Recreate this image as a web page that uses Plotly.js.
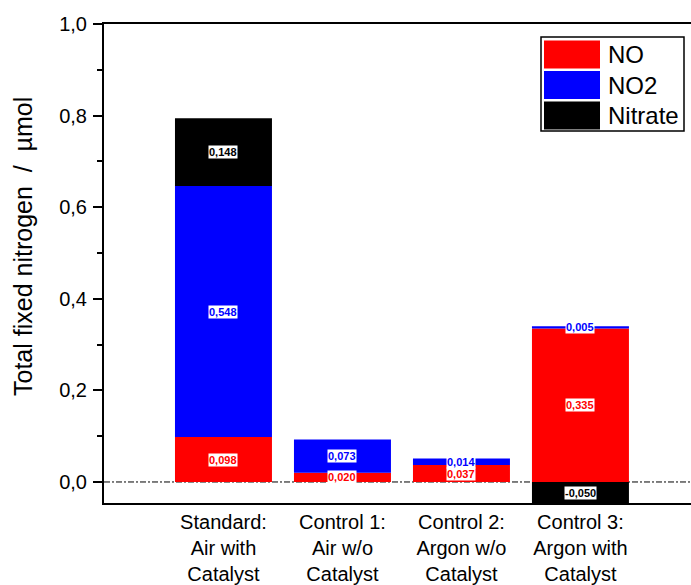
<!DOCTYPE html>
<html>
<head>
<meta charset="utf-8">
<script src="https://cdn.plot.ly/plotly-3.0.1.min.js"></script>
<style>
html, body { margin: 0; padding: 0; overflow: hidden; background: #fff; }
#chart { width: 691px; height: 585px; }
</style>
</head>
<body>
<div id="chart"></div>
<script>
// ---- data ----
const categories = [
  'Standard:<br>Air with<br>Catalyst',
  'Control 1:<br>Air w/o<br>Catalyst',
  'Control 2:<br>Argon w/o<br>Catalyst',
  'Control 3:<br>Argon with<br>Catalyst'
];
const seriesNames = ['NO', 'NO2', 'Nitrate'];
const noValues = [0.098, 0.020, 0.037, 0.335];
const no2Values = [0.548, 0.073, 0.014, 0.005];
const nitrateValues = [0.148, null, null, -0.050];
const seriesColors = ['#ff0000', '#0000ff', '#000000'];
const yTitle = 'Total fixed nitrogen  /  µmol';

const allSeries = [noValues, no2Values, nitrateValues];
const FONT = 'Liberation Sans, Arial, sans-serif';

const traces = allSeries.map((vals, i) => ({
  type: 'bar',
  name: seriesNames[i],
  x: categories,
  y: vals,
  marker: { color: seriesColors[i], line: { width: 0 } },
  showlegend: false,
  hoverinfo: 'name+y'
}));

// value labels, centred in each segment
const annotations = [];
const posBase = categories.map(() => 0);
const negBase = categories.map(() => 0);
allSeries.forEach((vals, s) => {
  vals.forEach((v, c) => {
    if (v === null || v === undefined) return;
    let yc;
    if (v >= 0) { yc = posBase[c] + v / 2; posBase[c] += v; }
    else { yc = negBase[c] + v / 2; negBase[c] += v; }
    annotations.push({
      x: categories[c], y: yc, xref: 'x', yref: 'y',
      text: '<b>' + v.toFixed(3).replace('.', ',') + '</b>',
      showarrow: false,
      font: { family: FONT, size: 11, color: seriesColors[s] },
      bgcolor: '#ffffff', borderpad: 0
    });
  });
});

// plot-area pixel helpers (plot spans x 104..691, y 24..503)
const PL = 104, PR = 691, PT = 24, PB = 503;
const px = x => (x - PL) / (PR - PL);
const py = y => (PB - y) / (PB - PT);

// y-axis title
annotations.push({
  xref: 'paper', yref: 'paper', x: px(23), y: py(247),
  xanchor: 'center', yanchor: 'middle',
  text: yTitle, textangle: -90, showarrow: false,
  font: { family: FONT, size: 25, color: '#000' }
});

// custom legend
const shapes = [
  { type: 'line', xref: 'paper', yref: 'y', x0: 0, x1: 1, y0: 0, y1: 0,
    line: { color: '#000', width: 1, dash: '6px,2px,2px,2px' }, layer: 'below' },
  { type: 'rect', xref: 'paper', yref: 'paper', x0: px(541), x1: px(684), y0: py(131), y1: py(37),
    line: { color: '#000', width: 1.5 }, fillcolor: '#fff', layer: 'above' }
];
const rowTops = [40.5, 71, 101.5];
seriesNames.forEach((n, i) => {
  const t = rowTops[i];
  shapes.push({ type: 'rect', xref: 'paper', yref: 'paper', x0: px(544), x1: px(600),
    y0: py(t + 28), y1: py(t), fillcolor: seriesColors[i], line: { width: 0 }, layer: 'above' });
  annotations.push({ xref: 'paper', yref: 'paper', x: px(606), y: py(t + 14),
    xanchor: 'left', yanchor: 'middle', text: n, showarrow: false,
    font: { family: FONT, size: 24, color: '#000' } });
});

const layout = {
  width: 691, height: 585,
  margin: { l: PL, r: 691 - PR, t: PT, b: 585 - PB, pad: 0 },
  paper_bgcolor: '#fff', plot_bgcolor: '#fff',
  font: { family: FONT, color: '#000' },
  separators: ',.',
  barmode: 'relative',
  bargap: 0.185,
  showlegend: false,
  xaxis: {
    type: 'category',
    range: [-1.004, 3.929],
    showline: true, linecolor: '#000', linewidth: 2, mirror: true,
    ticks: '', showgrid: false, zeroline: false,
    tickfont: { family: FONT, size: 20, color: '#000' }
  },
  yaxis: {
    range: [-0.0459, 1.0],
    tick0: 0, dtick: 0.2, tickformat: '.1f',
    ticks: 'outside', ticklen: 9, tickwidth: 2, tickcolor: '#000',
    ticklabelstandoff: 2,
    minor: { dtick: 0.1, ticks: 'outside', ticklen: 5, tickwidth: 2, tickcolor: '#000' },
    showline: true, linecolor: '#000', linewidth: 2,
    showgrid: false, zeroline: false,
    tickfont: { family: FONT, size: 20, color: '#000' }
  },
  annotations: annotations,
  shapes: shapes
};

Plotly.newPlot('chart', traces, layout, { displayModeBar: false, staticPlot: true });
</script>
</body>
</html>
